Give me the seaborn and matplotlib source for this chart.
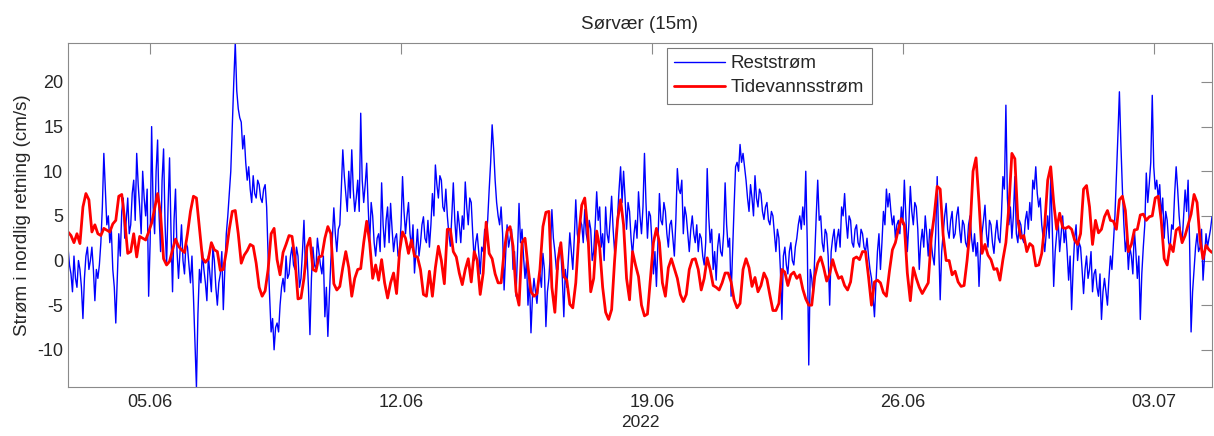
import matplotlib
matplotlib.use("Agg")
import matplotlib.pyplot as plt
import pandas as pd
import seaborn as sns

start = "2022-06-02 17:00"

# Residual current, northward component (cm/s), hourly values
rest_step = "1h"
reststrom = [
    1.5, -0.5, -1.5, -3.5, 0.5, -2.0, -3.0, 0.0, -1.0, -3.0,
    -6.5, -2.0, 0.5, 1.5, -1.0, 0.0, 1.5, -1.0, -4.5, -1.0,
    -2.0, -0.5, 2.0, 6.0, 12.0, 8.0, 4.0, 5.0, 2.0, 3.5,
    -1.0, -3.0, -7.0, -2.0, 3.0, 0.5, 5.5, 7.0, 2.5, 4.5,
    7.0, 3.0, 4.0, 7.5, 9.0, 4.5, 12.0, 8.5, 6.0, 3.0,
    10.0, 7.0, 5.0, 8.0, -4.0, 2.0, 15.0, 6.0, 3.0, 10.0,
    13.5, 5.0, 1.0, 9.0, 12.5, 4.0, -0.5, 6.0, 11.5, 3.0,
    -3.5, 4.5, 8.0, 1.0, -2.0, 1.0, 4.0, 0.0, -1.5, 2.0,
    1.5, -0.5, -2.5, 0.5, -4.0, -9.0, -14.2, -6.0, -1.0, -2.5,
    1.0, -1.0, -2.5, -4.5, 0.5, -1.5, -3.5, 1.5, 0.0, -3.0,
    -5.0, -2.5, -1.5, 1.0, -5.5, -1.0, 3.0, 5.0, 7.5, 10.0,
    15.0, 20.0, 24.4, 19.0, 17.0, 16.0, 15.5, 12.5, 14.0, 11.0,
    9.0, 10.5, 8.0, 6.5, 9.5, 7.5, 7.0, 9.0, 8.5, 7.0,
    6.5, 8.0, 8.5, 6.0, 0.5, -4.0, -8.0, -6.5, -10.0, -7.5,
    -7.0, -8.0, -5.0, -3.0, -2.0, -3.5, 0.5, -2.0, -1.5, 0.5,
    1.5, -0.5, -1.0, 1.5, 0.5, -3.0,
    -2.0, 1.0, 4.5, -1.0, 1.0, -3.0, -8.3, -2.0, 1.5, -0.5,
    -1.0, 2.5, 1.0, -0.5, -1.5, 0.5, -6.3, -3.0, -8.5, -4.0,
    0.0, 2.5, 5.9, 3.0, 1.0, 3.5, 4.0, 8.0, 12.4, 9.5,
    7.5, 5.5, 10.0, 7.0, 12.4, 8.0, 5.5, 7.0, 9.0, 5.5,
    16.5, 9.0, 6.5, 8.5, 10.9, 6.0, 2.0, 6.5, 5.0, 2.0,
    0.5, 2.5, 3.0, 1.0, 8.7, 4.0, 1.5, 4.5, 6.0, 2.0,
    6.4, 3.5, 1.0, 2.5, 3.0, 0.5, 1.0, 4.0, 9.4, 5.5,
    3.0, 5.0, 6.5, 3.0, 1.5, 4.0, -1.4, 1.0, 3.5, 0.5,
    1.9, 4.0, 4.9, 2.5, 2.0, 4.5, 1.5, 4.0, 7.5, 5.0,
    10.7, 8.5, 7.0, 9.5, 9.0, 6.0, 5.5, 8.0, 5.0, 3.0,
    1.6, 5.0, 8.7, 4.5, 2.0, 5.5, 4.0, 2.0, 5.0, 3.5,
    8.8, 6.0, 4.0, 7.0, 6.5, 3.0, 0.0, 2.0, 3.0, 1.0,
    -1.5, 1.5, 1.0, 3.5, 2.5, 4.5, 7.9, 11.0, 15.2, 12.5,
    9.0, 6.5, 5.0, 4.0, 6.0, 3.0, -3.3, 0.5, 4.0, 1.5,
    2.5, 3.5, -1.0, 1.0, -4.0, 1.0, 6.4, 2.0, 3.5, 0.5,
    -2.0, 0.0, -5.0, -2.0, -8.1, -4.0, -2.0, -3.5, -4.8, -2.5,
    -1.5, -3.0, 0.8, -1.0, -7.4, -3.5, -2.0, 1.0, 5.7, 2.5,
    1.0, -1.0, -1.0, 1.5, 1.0, -2.0, -6.3, -1.0, -3.0, 0.0,
    3.1, 1.0, -1.0, 2.5, 6.8, 3.0, 2.0, 4.5, 4.0, 2.0,
    5.7, 3.0, 2.0, 4.5, 3.5, 0.0, 1.0, 4.0, 7.7, 4.5,
    6.0, 1.5,
    3.0, 0.0, 6.0, 3.0, 2.0, 4.5, 7.2, 3.5, 1.0, 3.0,
    5.0, 8.0, 10.5, 6.5, 10.0, 7.0, 3.5, 6.5, 5.5, 2.5,
    0.5, 3.0, 4.5, 2.5, 7.7, 5.0, 3.0, 6.0, 12.0, 6.5,
    2.5, 5.5, 5.0, 2.0, -1.5, 1.0, -2.9, 2.0, 7.5, 4.5,
    4.0, 6.5, 5.5, 3.0, 1.5, 4.0, 4.5, 2.5, 0.5, 4.5,
    10.3, 8.0, 7.5, 9.0, 3.0, 6.0, 5.0, 3.0, 1.0, 3.5,
    5.0, 3.0, 2.0, 4.0, 1.0, 3.0, 2.5, 0.5, -0.5, 2.0,
    10.3, 5.0, 2.0, 3.5, -1.0, 1.0, -2.2, 1.5, 3.0, 1.0,
    0.5, 3.0, 8.7, 4.0, 1.5, 2.5, -4.0, 1.0, 6.0, 10.5,
    11.0, 10.0, 13.0, 11.0, 12.0, 10.5, 9.0, 7.0, 5.5, 8.5,
    7.0, 5.0, 9.5, 7.0, 6.0, 8.0, 7.5, 5.5, 4.6, 6.0,
    6.5, 4.5, 4.0, 5.5, 5.0, 3.0, 1.0, 3.5, 2.5, -1.0,
    -6.6, 0.5, 1.5, -0.5, -1.5, 1.0, 2.0, 0.0, -0.5, 1.5,
    2.5, 4.0, 5.0, 3.5, 6.0, 4.0, 10.0, 2.0, -11.7, -1.0,
    -2.0, -4.0, 0.5, 5.0, 9.0, 4.5, 5.0, 2.0, 1.0, 3.5,
    3.0, 0.5, -5.0, 1.0, 2.5, 3.5, 1.0, 2.5, 3.5, 1.5,
    6.0, 5.0, 7.5, 4.5, 2.5, 5.0, 4.5, 2.0, 1.5, 3.5,
    4.0, 2.0, 1.5, 3.5, 3.0, 1.5, 1.0, 2.5, 0.5, -1.0,
    -2.0, -4.0, -6.3, -2.5, 1.0, 3.0, -1.0, 2.0, 5.5, 4.0,
    8.0, 6.0, 7.5, 5.5, 4.0, 5.0, 2.5, 4.0, 4.5, 3.0,
    6.0, 4.0, 9.0, 5.0, 1.0, 4.0, 8.3, 5.5, 4.0, 6.5,
    6.0, 3.5, -1.0, 2.0, 3.5, 1.5, 5.0, 3.0, 0.5, 3.5,
    2.0, 0.5, -0.5, 3.0, 9.4, 2.0, -4.4, 1.0, 3.0, 5.0,
    6.4, 3.5, 2.5, 4.5, 5.5, 2.5, 3.0, 5.0, 6.0, 3.5,
    2.0, 4.5, 4.0, 2.0, 1.5, 4.0, 5.0, 2.5, 1.0, 3.0,
    0.5, 2.0, -2.9, 1.0, 3.0, 4.5, 6.2, 3.0, 1.5, 4.5,
    4.0, 2.0, 0.8, 3.0, 4.5, 2.5, 2.0, 5.0, 9.4, 8.0,
    17.4, 7.0, 4.0, 6.0, 2.5, 5.0, 9.4, 3.0, 2.0, 4.5,
    4.0, 2.5, 2.0, 4.5, 5.5, 3.5, 6.5, 4.5, 9.0, 8.0,
    10.5, 7.5, 6.0, 7.0, 4.0, 2.5, 1.0, 3.0, 5.0, 2.5,
    9.4, 4.0,
    -2.9, 1.0, 3.0, 4.5, 1.0, 3.0, 5.0, 2.0, 3.5, 1.0,
    -2.2, 0.5, -5.5, -1.0, 2.5, 4.0, 0.0, 2.0, 1.5, -1.0,
    -3.7, -1.0, 0.5, -2.0, -1.0, 1.0, -3.5, -1.5, -1.0, -3.0,
    -4.0, -1.5, -6.6, -3.5, -2.0, -3.5, -5.0, -2.0, 0.5, -1.0,
    2.0, 5.0, 9.5, 14.0, 18.9, 13.0, 8.0, 4.0, 1.0, 2.5,
    -1.0, 1.5, 0.5, -1.5, 3.5, 1.0, -2.0, 0.5, -6.6, -1.5,
    1.5, 4.0, 9.8, 6.5, 8.6, 11.0, 18.5, 10.5, 8.0, 9.0,
    7.0, 8.5, 5.0, 7.0, 2.5, 5.5, 4.5, 2.0, 1.5, 4.0,
    3.5, 7.5, 10.5, 8.0, 5.0, 3.0, 2.0, 5.0, 7.9, 5.5,
    9.0, 2.0, -8.0, -3.5, -1.0, 1.5, 3.0, 1.0, 1.5, 3.5,
    -2.2, 0.5, 3.0, 1.5, 2.5, 3.5, 4.9,
]

# Tidal current, northward component (cm/s), 2-hourly values
tide_step = "2h"
tidevannsstrom = [
    3.2, 2.8, 2.0, 3.0, 1.9, 6.0, 7.5, 6.8, 3.2, 4.0,
    3.0, 2.8, 3.6, 3.4, 3.2, 4.1, 4.5, 7.2, 7.4, 4.5,
    0.8, 1.0, 3.0, 0.4, 2.7, 2.5, 2.3, 3.2, 4.2, 5.8,
    7.5, 5.2, 0.2, -0.5, -0.1, 1.2, 2.4, 1.6, 1.2, 0.9,
    3.0, 5.5, 7.2, 7.0, 3.6, 0.3, -0.2, 0.2, 2.0, 1.2,
    1.0, -1.1, -1.0, 1.0, 3.5, 5.5, 5.6, 3.0, -0.3, 0.6,
    1.1, 1.8, 1.6, -0.3, -3.0, -4.0, -3.4, -1.0, 3.0, 3.6,
    0.1, -1.6, 0.9, 1.8, 2.8, 2.7, 0.2, -4.3,
    -4.2, -2.0, 1.5, 2.5, -1.0, -1.2, 0.4, 0.5, 2.5, 3.8,
    3.0, -2.6, -3.3, -2.9, -0.8, 1.0, -0.8, -4.0, -2.0, -1.0,
    -0.9, 2.0, 4.4, 2.0, -2.0, -0.5, -2.2, 0.1, -2.5, -4.2,
    -2.5, -1.4, -3.7, 1.0, 3.2, 2.5, 0.8, 2.3, 0.5, 0.4,
    -1.0, -3.8, -4.0, -1.2, -4.0, -0.8, 1.6, 0.0, -2.6, 3.5,
    3.5, 1.0, 0.4, -1.4, -2.7, -1.0, 0.2, -2.4, 1.0, 0.0,
    -3.8, -1.4, 4.3, 0.8, 0.2, -1.5, -2.5, -2.5, 1.0, 3.3,
    3.8, 1.6, -3.5, -5.0, 2.0, 2.5, -0.7, -3.5, -4.0, -3.7,
    -1.0, 3.8, 5.4, 5.5, -3.0, -5.8, 0.0, 2.0, -1.8, -2.2,
    -4.9, -5.3, -2.5, 2.8, 6.2, 7.0, 3.5, -3.5, -2.0, 3.3, 1.5,
    -3.0, -5.8, -6.6, -5.5, 0.0, 4.5, 6.8, 4.0, -2.0, -4.4,
    1.0, -0.5, -1.8, -5.0, -6.2, -6.0, -2.0, 2.0, 3.6, 2.0,
    -2.5, -4.0, -0.8, 0.2, -0.9, -2.0, -3.8, -4.6, -3.8, -1.0,
    0.1, 0.2, -1.0, -3.3, -2.0, 0.3, -1.0, -2.8, -3.0, -3.3,
    -2.5, -1.4, -1.4, -2.4, -4.4, -5.3, -4.8, -1.0, 0.2, -0.8,
    -2.9, -1.9, -3.5, -2.8, -1.4, -2.1, -3.9, -5.6, -5.6, -4.8,
    -1.0, -1.3, -2.8, -1.6, -1.3, -2.0, -1.6, -3.2, -4.3, -5.0,
    -5.0, -1.8, -0.3, 0.4, -0.8, -2.3, -1.5, 0.1, -1.1, -2.0,
    -1.8, -2.8, -3.3, -2.4, 0.2, 0.4, 0.1, 1.0, 1.0, -1.8,
    -5.0, -2.4, -2.2, -2.5, -3.6, -4.0, -1.2, 1.2, 2.0, 3.5,
    4.7, 4.0, -1.4, -4.5, -0.8, -2.0, -3.0, -3.7, -3.1, -2.5,
    2.5, 5.0, 8.3, 8.0, 2.8, 0.0, 0.0, -1.6, -1.2, -2.4,
    -2.9, -2.8, 0.0, 3.5, 10.0, 11.5, 6.5, 0.8, 1.8, 0.6,
    0.1, -1.0, -0.9, -2.2, 0.1, 2.0, 6.0, 12.0, 11.4, 4.5,
    2.5, 2.8, 1.0, 1.9, 1.6, -0.6, -0.5, 0.8, 4.0, 9.0, 10.5,
    6.5, 3.5, 5.3, 3.7, 3.6, 3.8, 3.5, 2.3, 1.8, 3.0,
    8.0, 8.4, 6.0, 1.8, 4.5, 3.1, 3.5, 4.9, 5.6, 4.5,
    4.4, 3.5, 6.8, 7.2, 5.6, 1.0, 1.8, 3.4, 3.5, 5.1,
    5.2, 4.5, 4.9, 5.0, 7.0, 7.2, 4.5, 0.2, -0.5, 1.8,
    1.0, 3.4, 3.7, 2.0, 2.8, 4.0, 5.2, 7.4, 6.5, 2.3,
    0.2, 1.7, 1.2, 0.9,
]

tick_dates = ["2022-06-05", "2022-06-12", "2022-06-19", "2022-06-26", "2022-07-03"]
tick_labels = ["05.06", "12.06", "19.06", "26.06", "03.07"]
y_ticks = [-10, -5, 0, 5, 10, 15, 20]

sns.set_style("white")
plt.rcParams["font.family"] = ["Liberation Sans", "DejaVu Sans"]
plt.rcParams["axes.unicode_minus"] = False

text_color = "#262626"
frame_color = "#8a8a8a"

rest_df = pd.DataFrame({
    "tid": pd.date_range(start, periods=len(reststrom), freq=rest_step),
    "verdi": reststrom})
tide_df = pd.DataFrame({
    "tid": pd.date_range(start, periods=len(tidevannsstrom), freq=tide_step),
    "verdi": tidevannsstrom})

fig = plt.figure(figsize=(12.14, 4.36), dpi=100)
ax = fig.add_axes([0.05601, 0.1117, 0.94234, 0.7904])

sns.lineplot(data=rest_df, x="tid", y="verdi", color="#0000ff", linewidth=1.0,
             estimator=None, ax=ax, label="Reststrøm")
sns.lineplot(data=tide_df, x="tid", y="verdi", color="#ff0000", linewidth=2.0,
             estimator=None, ax=ax, label="Tidevannsstrøm")

# tight limits around the data
lo = min(rest_df["verdi"].min(), tide_df["verdi"].min())
hi = max(rest_df["verdi"].max(), tide_df["verdi"].max())
ax.set_xlim(rest_df["tid"].iloc[0], rest_df["tid"].iloc[-1])
ax.set_ylim(lo, hi)

ax.set_xticks(pd.to_datetime(tick_dates))
ax.set_xticklabels(tick_labels)
ax.set_yticks(y_ticks)
ax.tick_params(direction="in", length=8, width=0.8, top=True, right=True,
               color=frame_color, labelcolor=text_color, labelsize=13)
ax.tick_params(axis="x", pad=5)
ax.tick_params(axis="y", pad=3.5)

for sp in ax.spines.values():
    sp.set_color(frame_color)
    sp.set_linewidth(0.8)

ax.set_xlabel("2022", fontsize=12.5, color=text_color, labelpad=3)
ax.set_ylabel("Strøm i nordlig retning (cm/s)", fontsize=13.5,
              color=text_color, labelpad=4.5)
ax.set_title("Sørvær (15m)", fontsize=13.5, color=text_color, pad=10)

leg = ax.legend(loc="upper left", bbox_to_anchor=(0.5236, 0.985),
                frameon=True, fancybox=False, framealpha=1,
                edgecolor="#7a7a7a", fontsize=13.5, handlelength=2.7,
                handletextpad=0.3, borderpad=0.4, labelspacing=0.36,
                borderaxespad=0)
leg.get_frame().set_linewidth(0.8)
for t in leg.get_texts():
    t.set_color(text_color)

fig.savefig("out.png", dpi=100)
